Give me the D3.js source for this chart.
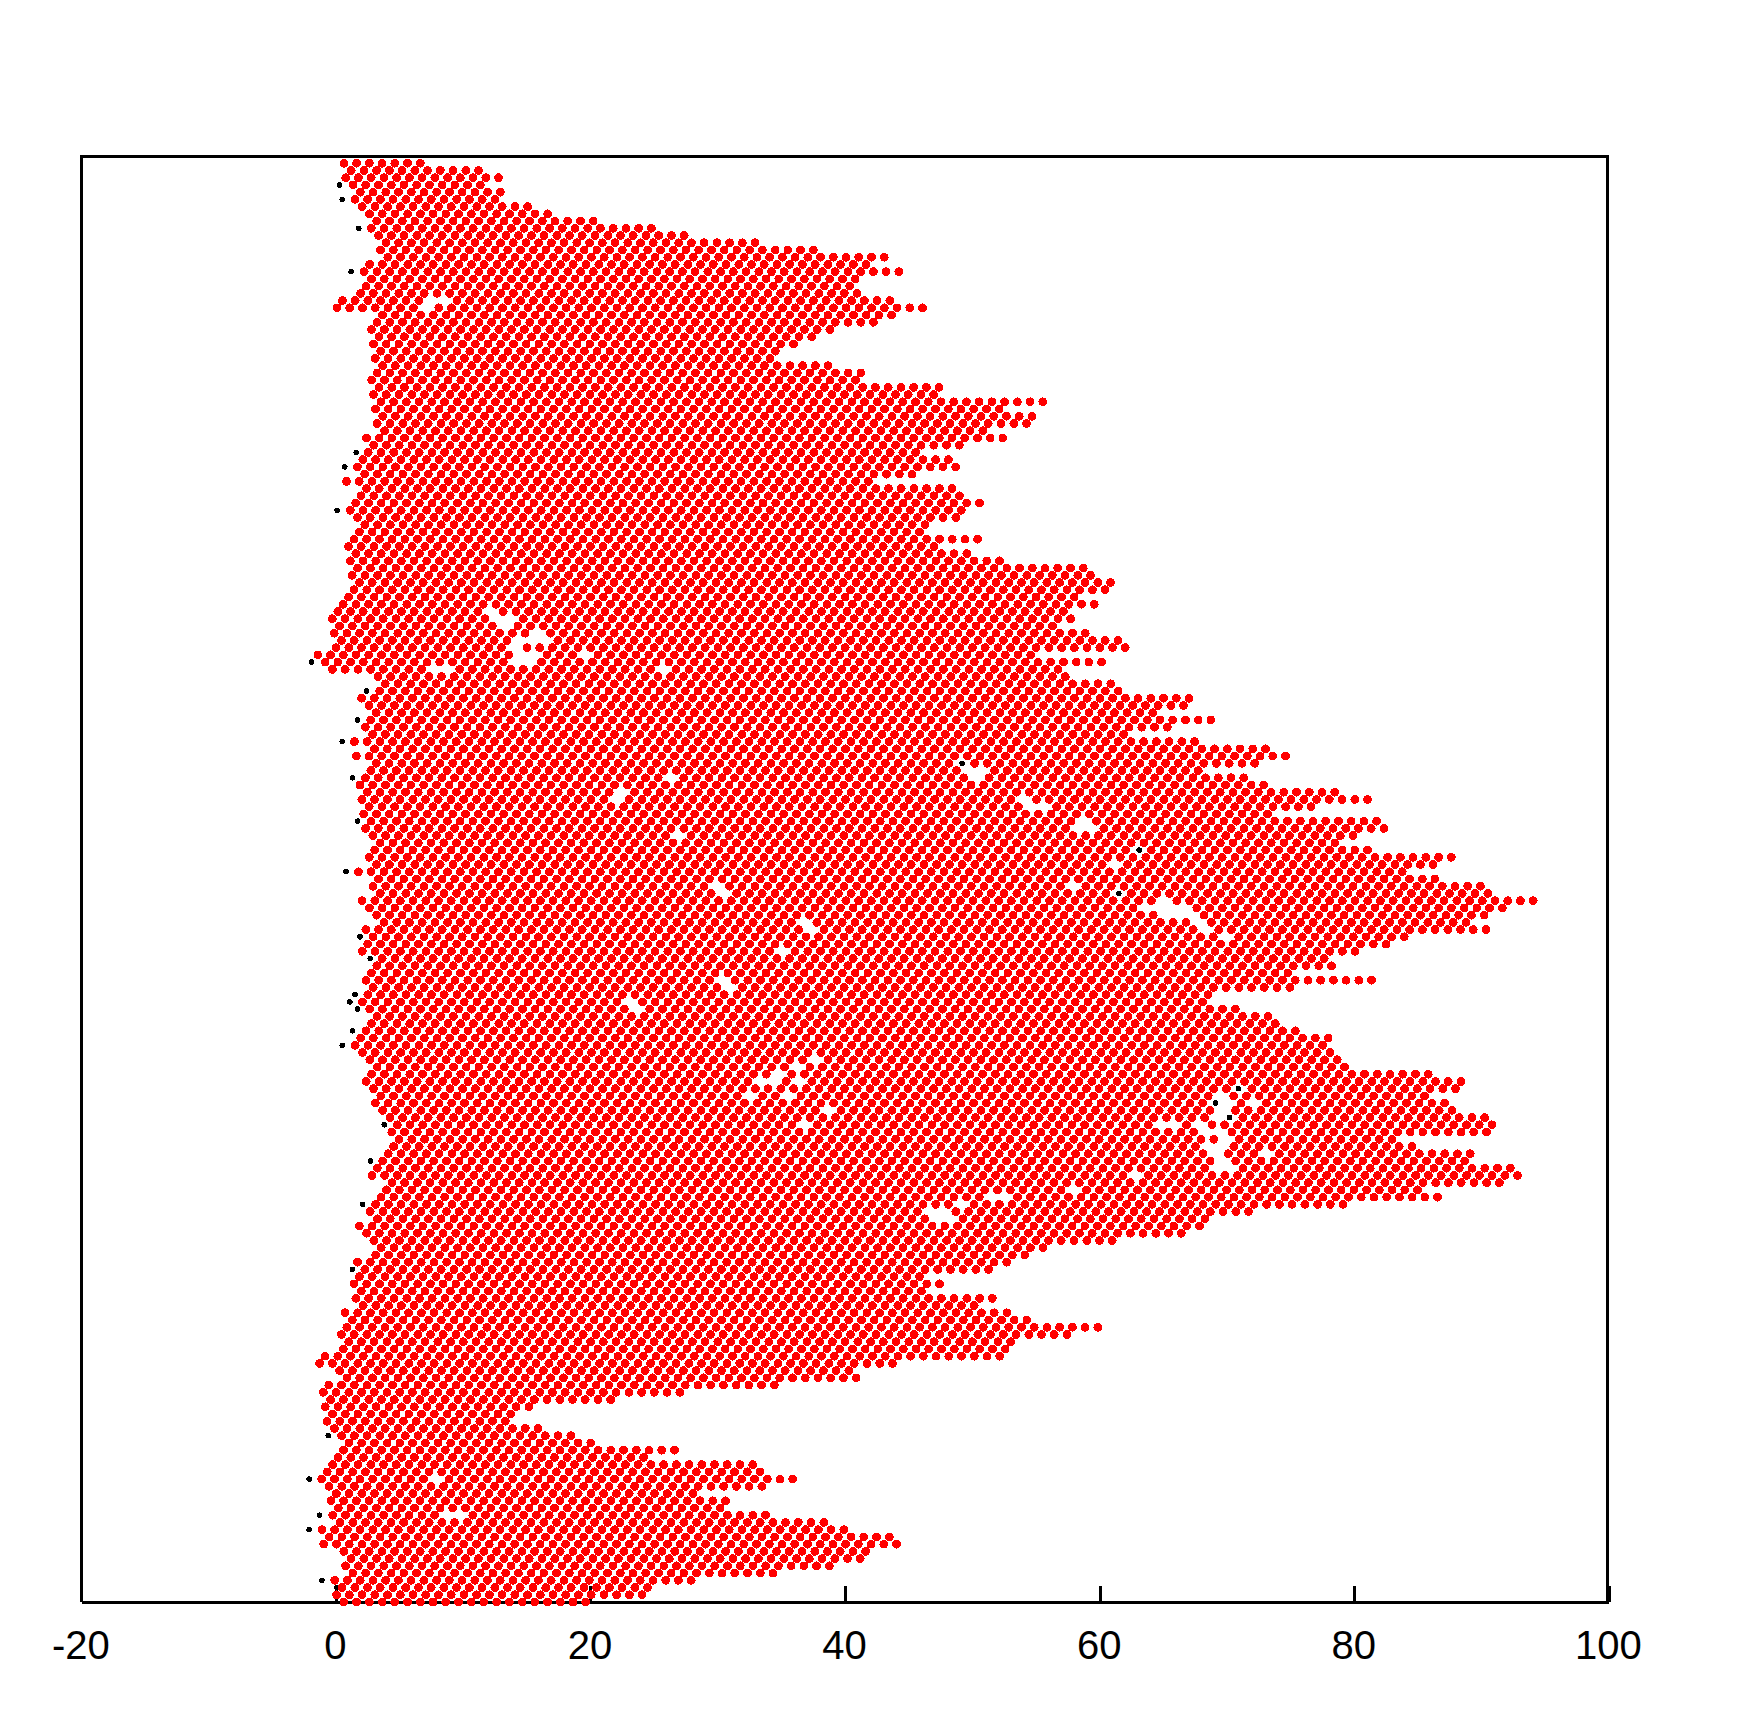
<!DOCTYPE html>
<html>
<head>
<meta charset="utf-8">
<script src="https://cdn.jsdelivr.net/npm/d3@7/dist/d3.min.js"></script>
<style>html,body{margin:0;padding:0;background:#fff}svg{display:block}</style>
</head>
<body>
<svg id="chart" width="1744" height="1712"></svg>
<script>
// Every row of the lattice, listed from the top of the plot down.
const rowLeft = [0.6,1.2,0.8,1.3,1.8,1.5,2,2.6,3.2,2.8,3.3,3.9,3.4,4,2.6,2.2,2.7,2.3,1.9,0.5,0.1,3.6,3.2,2.8,3.3,2.9,3.5,3,3.6,3.2,2.8,3.4,2.9,3.5,3,3.6,3.2,3.8,2.3,2.9,2.5,2.1,1.6,2.2,0.8,2.3,1.9,1.6,1.1,1.7,2.3,1.8,1.4,1,1.6,1.1,1.7,1.2,1.8,1.4,1,0.5,0.1,-0.3,0.2,-0.2,0.4,0,-1.5,-0.9,-0.3,3.3,3.8,3.4,1.9,2.5,3.1,2.7,2.3,2.9,1.4,2.9,1.6,3.1,2.7,2.3,1.9,2.4,2,2.6,2.2,2.7,2.3,2.9,3.4,3,2.6,3.1,1.8,3.3,2.9,3.4,2,2.6,3.2,3.8,2.3,2.9,2.5,2,3,3.2,2.8,2.3,2.9,2.5,2,2.6,3.2,2.8,2.3,1.9,1.5,2,2.7,3.2,2.8,2.3,2.9,3.5,3,3.6,4.2,4.7,4.4,5,4.5,4.1,3.7,3.2,2.8,4.4,3.9,3.5,3.1,2.7,3.2,1.8,2.4,3,3.5,3.1,1.7,2.3,1.8,1.4,1.9,1.6,2.2,0.7,1.2,0.8,0.4,1,0.5,-0.9,-1.3,0.2,0.8,-0.6,-1,-0.5,-0.9,-0.3,-0.7,-0.2,0.5,1,0.6,0.1,-0.3,-0.7,-1.2,-0.6,0,-0.4,0.1,-0.3,0.3,-1.1,-0.6,-0.9,0.6,1.2,0.7,1.3,-0.1,0.5,0,0.6];
const rowRight = [6.7,11.2,12.8,11.3,12.9,12.5,15,16.6,20.2,24.8,27.3,32.9,37.5,43,41.6,44.2,40.8,40.4,40.9,43.5,46.1,43.7,42.2,38.8,37.3,35.9,34.5,34.2,38.7,41.2,40.8,47.4,46.9,55.6,52.6,54.6,54.6,51,52.6,49.5,45.7,48.1,48.7,45.2,41.9,48.4,48.9,50.5,49.1,48.7,46.2,45.9,50.4,46.9,49.5,52.1,58.7,59.2,60.9,60.4,58,59.5,57.1,57.7,56.2,58.8,61.4,62,54.9,60.2,56.7,57.2,60.9,61.4,67,66.6,64.2,68.7,65.3,61.9,67.5,73,74.6,72.2,67.7,71.3,72.9,78.5,81,76.6,73.2,81.8,82.8,79.9,78.7,81,87.6,86.2,83.9,86.3,89.9,90.5,94,91.6,90.2,88.7,90.3,83.9,82.5,80,77.6,78.2,74.8,81.4,74.9,68.5,68.1,70.6,73.2,73.8,75.4,77.9,77.4,78.1,78.7,79.2,85.7,88.4,88,85.5,87.1,87.6,90.2,90.8,90.3,82.9,84.6,89.1,88.7,92.3,92.9,91.4,85.1,86.5,79.2,71.7,68.5,67.7,66.6,60.7,55.6,54.1,52.7,51.3,45.8,47.4,46.2,51.5,50.3,52.8,54.3,59.8,57.4,53,52.6,52.2,43.8,40.4,40.9,34.4,27.2,21.6,15.1,14.1,13.4,15.9,18.6,20.1,26.7,24.3,32.8,33.3,36,33.5,28.2,30.7,30.1,33.9,38.4,40,43.5,44.1,41.7,41.4,38.9,34.3,27.9,24.7,24,19.7];

// White gaps in the lattice: row, first x, last x.
const gapRow =   [19,20,62,63,64,65,66,67,68,69,68,70,70,70,83,84,85,85,87,88,88,89,91,92,93,95,97,100,100,101,101,102,103,104,105,105,106,106,107,109,113,114,116,117,124,125,126,127,127,129,129,128,129,130,130,131,131,132,133,133,133,134,135,136,137,137,138,139,140,140,141,142,143,144,145,146,182,187];
const gapFrom =  [6.7,6.5,11.8,12.5,13,15,13.5,13.5,14.3,14,19,15.8,7,25.2,48.8,49.5,50,25.8,21.5,21.8,53.3,54.5,58,58,26.3,62.6,61,57,29.5,61,30.3,64.4,63.5,64.9,67.6,36.5,67.8,36.6,69.6,34.9,30,30.2,22.7,23,37.5,35.5,34.2,32.8,35.5,32.3,35.5,70,68.8,69,71.6,69,38.6,69.2,64.6,36,67.5,68.3,69.4,68.5,72.6,68.5,68.7,69.2,69.2,62.8,62.5,57.8,51,48.8,46,46.5,7.8,8.4];
const gapTo =    [8.8,7.5,12.7,13.8,14,16,16.5,15,16.5,15.5,20,16.4,9,26.3,49.6,51,51,26.6,22.8,22.8,54.5,56,59,60,27.1,63.5,62,58.8,30.5,62,31,65.7,67.3,67.7,68.5,37,68.6,37.4,70.5,35.6,30.8,31,23.4,23.8,38.5,36.5,35.5,34.5,37,33.3,36.3,71.2,69.8,70.6,72.5,70.2,39.5,70.5,66.2,37.2,68.5,70,70.6,70,73.4,69.2,70.3,70.5,69.8,63.6,63.3,58.6,53.2,50,48.5,49,8.7,10.4];

// Small black points.
const blackRow = [3,5,9,15,40,42,48,69,73,77,80,85,91,98,107,110,115,116,117,120,122,133,138,144,153,176,182,187,189,196,197,95,101,128,130,132,83,183,188,102,104,125];
const blackX =   [0.3,0.5,1.8,1.2,1.6,0.7,0.1,-1.9,2.4,1.7,0.5,1.3,1.7,0.8,1.9,2.7,1.5,1.1,1.7,1.3,0.5,3.8,2.7,2.1,1.3,-0.6,-2.1,-1.3,-2.1,-1.1,0.1,63.1,61.5,70.9,69.1,70.2,49.2,32.4,13.3,33.1,36.1,37.2];

const xTicks = [-20,0,20,40,60,80,100];
const latticeStart = 0.63, latticeStep = 85/199;

const x = d3.scaleLinear().domain([-20,100]).range([81.3,1608.8]);
const y = d3.scaleLinear().domain([-1,199]).range([156,1602]);
const svg = d3.select('#chart');

// build the lattice from the row extents
const redPoints = [];
rowLeft.forEach((left,row)=>{
  const right = rowRight[row];
  const phase = latticeStart - latticeStep*row;
  const frac = phase - Math.floor(phase);
  for(let k=Math.floor(left)-1;k<=Math.ceil(right)+1;k++){
    const v = k+frac;
    if(v < left-0.3 || v > right+0.3) continue;
    let gap=false;
    gapRow.forEach((g,j)=>{ if(g===row && v>=gapFrom[j] && v<=gapTo[j]) gap=true; });
    if(!gap) redPoints.push({v,row});
  }
});

svg.append('g').selectAll('circle').data(blackRow).join('circle')
  .attr('cx',(r,i)=>x(blackX[i])).attr('cy',r=>y(r)).attr('r',2.8)
  .attr('fill','#000').attr('shape-rendering','crispEdges');

// frame
const [x0,x1]=x.range(), yTop=y(-1), yBot=y(199);
svg.append('path').attr('d',`M${x0},${yBot}V${yTop}H${x1-1.2}V${yBot}`)
  .attr('fill','none').attr('stroke','#000').attr('stroke-width',3).attr('shape-rendering','crispEdges');

const axis = d3.axisBottom(x).tickValues(xTicks).tickSizeInner(-16).tickSizeOuter(0).tickPadding(0).tickFormat(d=>String(d));
const gx = svg.append('g').attr('transform',`translate(0,${yBot})`).call(axis);
gx.select('.domain').attr('stroke','#000').attr('stroke-width',3).attr('shape-rendering','crispEdges');
gx.selectAll('.tick line').attr('stroke','#000').attr('stroke-width',3).attr('shape-rendering','crispEdges');
gx.selectAll('.tick text')
  .attr('y',0).attr('dy',0)
  .attr('transform','translate(-1,57)')
  .attr('fill','#000')
  .style('font-family','"Liberation Sans",Arial,sans-serif')
  .style('font-size','40px');

svg.append('g').selectAll('circle').data(redPoints).join('circle')
  .attr('cx',d=>x(d.v)).attr('cy',d=>y(d.row)).attr('r',4.4)
  .attr('fill','#ff0000').attr('shape-rendering','crispEdges');
</script>
</body>
</html>
